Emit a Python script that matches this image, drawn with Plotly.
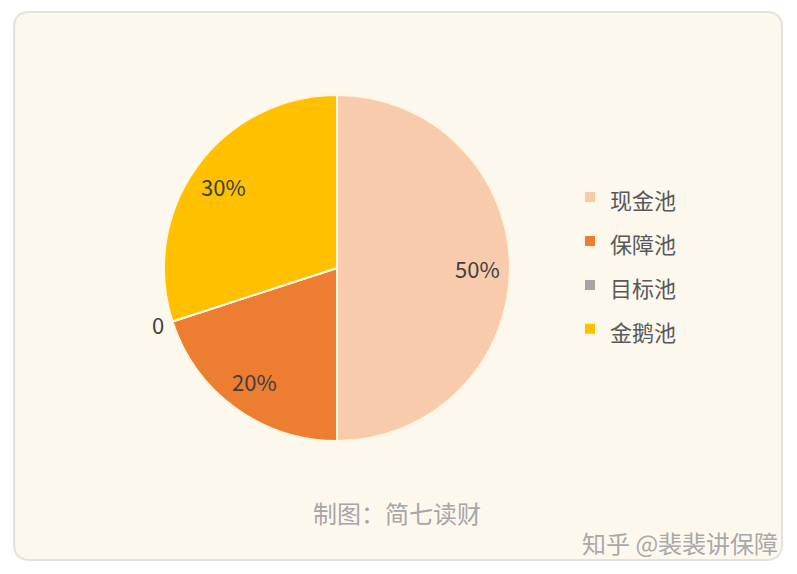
import math
import plotly.graph_objects as go

# Data
labels = ["现金池", "保障池", "目标池", "金鹅池"]
values = [50, 20, 0, 30]
colors = ["#F8CBAD", "#ED7D31", "#A5A5A5", "#FFC000"]
caption = "制图：简七读财"
watermark = "知乎 @裴裴讲保障"

W, H = 797, 574
FONT = "Noto Sans CJK SC, Noto Sans, sans-serif"

# pie placement (pixels)
cx, cy, r = 337, 268, 173
dom_x = [(cx - r) / W, (cx + r) / W]
dom_y = [1 - (cy + r) / H, 1 - (cy - r) / H]

total = sum(values)
legend_labels = [f"<span style='font-size:22px'>{l}</span>" for l in labels]

fig = go.Figure()
fig.add_trace(go.Pie(
    labels=legend_labels, values=values, sort=False, direction="clockwise", rotation=0,
    marker=dict(colors=colors, line=dict(color="#FFF6E0", width=2)),
    textinfo="none",
    domain=dict(x=dom_x, y=dom_y), hoverinfo="value",
    showlegend=True,
))

# slice labels, placed from the data's cumulative angles
cum = 0
for lab, v in zip(labels, values):
    if v == 0:
        ang = math.radians(cum / total * 360)
        rr = r + 7
        txt = "0"
        xa = "right"
    else:
        ang = math.radians((cum + v / 2) / total * 360)
        rr = r * 0.81
        txt = f"{v / total * 100:.0f}%"
        xa = "center"
    px = cx + rr * math.sin(ang)
    py = cy - rr * math.cos(ang)
    fig.add_annotation(x=px / W, y=1 - py / H, xref="paper", yref="paper",
                       text=txt, showarrow=False, xanchor=xa, yanchor="middle",
                       font=dict(family=FONT, size=22, color="#404040"))
    cum += v

# rounded card
x0, y0, x1, y1, rad = 14, 12, 782, 560, 16
def P(x, y):
    return f"{x / W:.5f} {1 - y / H:.5f}"
path = (f"M {P(x0 + rad, y0)} L {P(x1 - rad, y0)} Q {P(x1, y0)} {P(x1, y0 + rad)} "
        f"L {P(x1, y1 - rad)} Q {P(x1, y1)} {P(x1 - rad, y1)} "
        f"L {P(x0 + rad, y1)} Q {P(x0, y1)} {P(x0, y1 - rad)} "
        f"L {P(x0, y0 + rad)} Q {P(x0, y0)} {P(x0 + rad, y0)} Z")
fig.add_shape(type="path", path=path, xref="paper", yref="paper", layer="below",
              fillcolor="#FDF8EE", line=dict(color="#E4E2DC", width=2))

fig.add_annotation(x=397 / W, y=1 - 512 / H, xref="paper", yref="paper", text=caption,
                   showarrow=False, yanchor="middle",
                   font=dict(family=FONT, size=24, color="#A6A6A6"))
fig.add_annotation(x=780 / W, y=1 - 542 / H, xref="paper", yref="paper", text=watermark,
                   showarrow=False, xanchor="right", yanchor="middle",
                   font=dict(family=FONT, size=24, color="#A9A9A9"))

fig.update_layout(
    width=W, height=H, margin=dict(l=0, r=0, t=0, b=0),
    paper_bgcolor="#FFFFFF", plot_bgcolor="#FFFFFF",
    legend=dict(x=570 / W, y=1 - 170 / H, xanchor="left", yanchor="top",
                font=dict(family=FONT, size=31.5, color="#595959"),
                bgcolor="rgba(0,0,0,0)", itemwidth=30,
                traceorder="normal"),
)

fig.write_html("out.html", config={"displayModeBar": False},
               post_script="document.body.style.margin='0';")
